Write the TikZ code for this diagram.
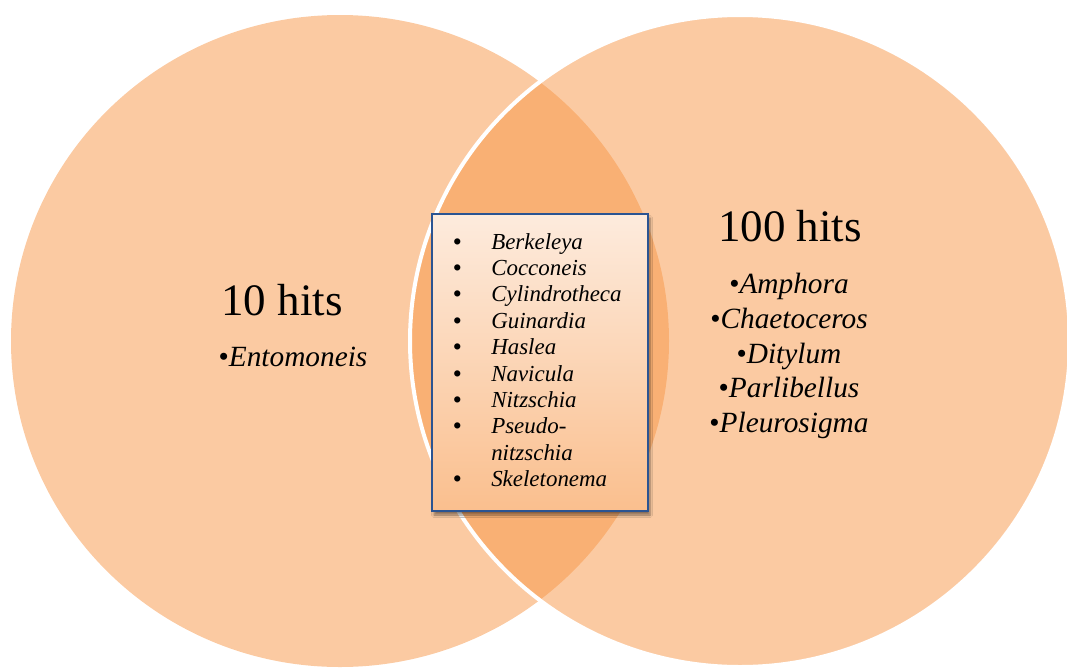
\documentclass[tikz,border=0pt]{standalone}
\usepackage{fontspec}
\setmainfont{Liberation Serif}
\usetikzlibrary{shadows.blur}

\definecolor{vennorange}{HTML}{F79646}
\definecolor{boxblue}{HTML}{2B5492}
\definecolor{boxtop}{HTML}{FDEBDD}
\definecolor{boxbottom}{HTML}{FABF8E}

\newcommand{\itembul}{\makebox[28.5pt][l]{\textbf{\textbullet}}}

\begin{document}
\begin{tikzpicture}[x=0.75pt,y=-0.75pt,
    venn/.style={fill=vennorange,fill opacity=0.5},
    hits/.style={font=\fontsize{33.75}{40}\selectfont,inner sep=0pt},
    taxa/.style={font=\fontsize{22}{26}\selectfont,align=center,inner sep=0pt},
    listbox/.style={draw=boxblue,line width=1.9pt,top color=boxtop,bottom color=boxbottom,
        minimum width=162pt,minimum height=222.75pt,
        blur shadow={shadow xshift=1.5pt,shadow yshift=-3pt,shadow blur steps=6,shadow opacity=45}},
    shared/.style={font=\fontsize{17.2}{19.8}\selectfont,align=left,inner sep=0pt}]
    \useasboundingbox (0,0) rectangle (1067,668);
    \clip (0,0) rectangle (1067,668);

    % the two sets
    \fill[venn] (340,341) ellipse [x radius=329,y radius=326];
    \fill[venn] (740,341) ellipse [x radius=330,y radius=326];
    \draw[white,line width=3pt] (740,341) ellipse [x radius=330,y radius=326];

    % left set
    \node[hits,anchor=base] (lefttitle) at (282,315) {10 hits};
    \node[taxa,anchor=base] (leftonly) at (293,366) {\textbullet\textit{Entomoneis}};

    % right set
    \node[hits,anchor=base] (righttitle) at (790,241) {100 hits};
    \node[taxa] (rightonly) at (789,356) {\textbullet\textit{Amphora}\\
        \textbullet\textit{Chaetoceros}\\
        \textbullet\textit{Ditylum}\\
        \textbullet\textit{Parlibellus}\\
        \textbullet\textit{Pleurosigma}};

    % overlap
    \node[listbox] (box) at (540,362.5) {};
    \node[shared,anchor=west] (both) at (453,360) {\itembul\textit{Berkeleya}\\
        \itembul\textit{Cocconeis}\\
        \itembul\textit{Cylindrotheca}\\
        \itembul\textit{Guinardia}\\
        \itembul\textit{Haslea}\\
        \itembul\textit{Navicula}\\
        \itembul\textit{Nitzschia}\\
        \itembul\textit{Pseudo-}\\
        \hspace*{28.5pt}\textit{nitzschia}\\
        \itembul\textit{Skeletonema}};
\end{tikzpicture}
\end{document}
